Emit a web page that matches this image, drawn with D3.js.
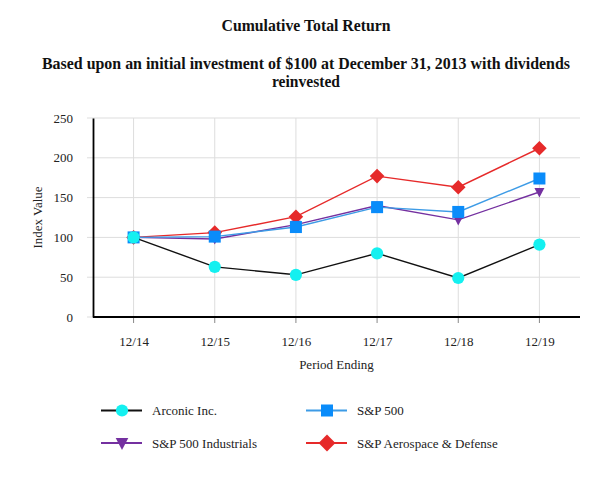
<!DOCTYPE html>
<html>
<head>
<meta charset="utf-8">
<script src="https://cdn.jsdelivr.net/npm/d3@7"></script>
<style>
body { margin: 0; background: #fff; }
text { font-family: "Liberation Serif", "Times New Roman", serif; }
</style>
</head>
<body>
<div id="chart"></div>
<script>
// data
var periods = ["12/14", "12/15", "12/16", "12/17", "12/18", "12/19"]
var arconic = [100, 63, 53, 80, 49, 91]
var sp500 = [100, 101, 113, 138, 132, 174]
var industrials = [100, 98, 116, 140, 122, 157]
var aerospace = [100, 106, 126, 177, 163, 212]
var yTicks = [0, 50, 100, 150, 200, 250]

var series = [
  { name: "Arconic Inc.", values: arconic, line: "#111", fill: "#14f0f0", shape: "circle" },
  { name: "S&P 500", values: sp500, line: "#3d9be6", fill: "#0a8cfa", shape: "square" },
  { name: "S&P 500 Industrials", values: industrials, line: "#7430a0", fill: "#7430a0", shape: "triangle" },
  { name: "S&P Aerospace & Defense", values: aerospace, line: "#e62a2a", fill: "#e62a2a", shape: "diamond" }
]

var W = 613, H = 480
var pL = 93, pR = 580, pT = 118, pB = 317

var svg = d3.select("#chart").append("svg").attr("width", W).attr("height", H)

var x = d3.scalePoint().domain(periods).range([pL, pR]).padding(0.5)
var y = d3.scaleLinear().domain([0, 250]).range([pB, pT])

// titles
function title(txt, ty, len) {
  svg.append("text").attr("x", 306).attr("y", ty).attr("text-anchor", "middle")
    .attr("font-size", 17).attr("font-weight", "bold").attr("fill", "#111")
    .attr("textLength", len).attr("lengthAdjust", "spacingAndGlyphs").text(txt)
}
title("Cumulative Total Return", 31, 169)
title("Based upon an initial investment of $100 at December 31, 2013 with dividends", 69, 528)
title("reinvested", 87, 68)

// grid
svg.append("g").selectAll("line").data(yTicks).enter().append("line")
  .attr("x1", pL - 6).attr("x2", pR)
  .attr("y1", function(d){ return y(d) }).attr("y2", function(d){ return y(d) })
  .attr("stroke", "#ddd").attr("stroke-width", 1)
svg.append("g").selectAll("line").data(periods).enter().append("line")
  .attr("x1", function(d){ return x(d) }).attr("x2", function(d){ return x(d) })
  .attr("y1", pT).attr("y2", pB)
  .attr("stroke", "#ddd").attr("stroke-width", 1)
// small ticks below the x axis
svg.append("g").selectAll("line").data(periods).enter().append("line")
  .attr("x1", function(d){ return x(d) }).attr("x2", function(d){ return x(d) })
  .attr("y1", pB).attr("y2", pB + 6)
  .attr("stroke", "#888").attr("stroke-width", 1)

// axes
var yAxis = svg.append("g").attr("transform", "translate(" + pL + ",0)")
  .call(d3.axisLeft(y).tickValues(yTicks).tickSize(0).tickPadding(20))
yAxis.select(".domain").attr("stroke", "#000").attr("stroke-width", 1.8)
yAxis.selectAll("text").attr("font-size", 13).attr("font-family", "Liberation Serif").attr("fill", "#222")

var xAxis = svg.append("g").attr("transform", "translate(0," + pB + ")")
  .call(d3.axisBottom(x).tickSize(0).tickPadding(20))
xAxis.select(".domain").attr("d", "M" + pL + ",0H" + pR).attr("stroke", "#000").attr("stroke-width", 1.8)
xAxis.selectAll("text").attr("font-size", 13).attr("font-family", "Liberation Serif").attr("fill", "#222")

svg.append("text").attr("transform", "translate(42," + ((pT + pB) / 2) + ") rotate(-90)")
  .attr("text-anchor", "middle").attr("font-size", 13).attr("fill", "#222").text("Index Value")
svg.append("text").attr("x", (pL + pR) / 2).attr("y", 369)
  .attr("text-anchor", "middle").attr("font-size", 13).attr("fill", "#222").text("Period Ending")

// k scales the marker (legend markers are a bit bigger)
function marker(g, s, cx, cy, k) {
  if (s.shape == "circle") {
    g.append("circle").attr("cx", cx).attr("cy", cy).attr("r", 6.1 * k).attr("fill", s.fill)
  } else if (s.shape == "square") {
    var h = 6 * k
    g.append("rect").attr("x", cx - h).attr("y", cy - h).attr("width", 2 * h).attr("height", 2 * h).attr("fill", s.fill)
  } else if (s.shape == "triangle") {
    var w = (k > 1 ? 6.3 : 5)
    g.append("path").attr("d", "M" + (cx - w) + "," + (cy - w * 0.8) + "L" + (cx + w) + "," + (cy - w * 0.8) + "L" + cx + "," + (cy + w * 1.1) + "Z").attr("fill", s.fill)
  } else {
    var d = (k > 1 ? 8.4 : 7.3)
    g.append("path").attr("d", "M" + cx + "," + (cy - d) + "L" + (cx + d) + "," + cy + "L" + cx + "," + (cy + d) + "L" + (cx - d) + "," + cy + "Z").attr("fill", s.fill)
  }
}

var line = d3.line().x(function(d, i){ return x(periods[i]) }).y(function(d){ return y(d) })

// draw order: aerospace at back, arconic on top
var order = [3, 2, 1, 0]
order.forEach(function(k){
  var s = series[k]
  var g = svg.append("g")
  g.append("path").attr("d", line(s.values)).attr("fill", "none").attr("stroke", s.line).attr("stroke-width", 1.4)
  s.values.forEach(function(v, i){ marker(g, s, x(periods[i]), y(v), 1) })
})

// legend
var legPos = [[101, 410.5], [306, 410.5], [101, 443], [306, 443]]
series.forEach(function(s, i){
  var g = svg.append("g")
  var lx = legPos[i][0], ly = legPos[i][1]
  g.append("line").attr("x1", lx).attr("x2", lx + 41).attr("y1", ly).attr("y2", ly).attr("stroke", s.line).attr("stroke-width", 2)
  marker(g, s, lx + 21, ly, 1.0001)
  g.append("text").attr("x", lx + 51).attr("y", ly + 4.5).attr("font-size", 13).attr("fill", "#222").text(s.name)
})
</script>
</body>
</html>
